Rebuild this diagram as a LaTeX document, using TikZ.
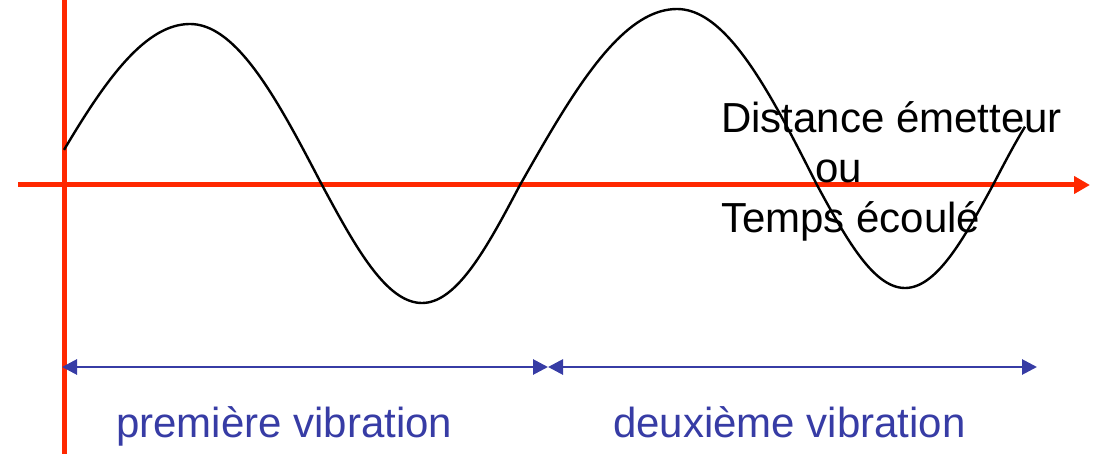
\documentclass[tikz,border=0pt]{standalone}
\usepackage{fontspec}
\setmainfont{Liberation Sans}
\usetikzlibrary{arrows.meta}
\definecolor{axisred}{RGB}{255,40,0}
\definecolor{vibblue}{RGB}{55,60,165}
\tikzset{
  axisline/.style={draw=axisred, line width=5pt},
  vibarrow/.style={draw=vibblue, line width=2.8pt, {Triangle[length=15pt,width=15pt]}-{Triangle[length=15pt,width=15pt]}},
  wave/.style={draw=black, line width=2.4pt, line join=round},
  blacktext/.style={font=\fontsize{42}{46}\selectfont, text=black, inner sep=0pt},
  bluetext/.style={font=\fontsize{42}{46}\selectfont, text=vibblue, inner sep=0pt},
}
\begin{document}
\begin{tikzpicture}[x=1pt,y=-1pt]
\useasboundingbox (0,0) rectangle (1097,454);
% axes
\coordinate (vtop) at (64,0);
\coordinate (vbot) at (64,454);
\coordinate (hleft) at (18,185);
\coordinate (hright) at (1090,185);
\draw[axisline] (vtop) -- (vbot);
\draw[axisline, -{Triangle[length=16pt,width=17pt]}] (hleft) -- (hright);
% wave
\draw[wave]
  plot[domain=64:190, samples=40] (\x, {185-161*sin(90*(\x-43.5)/146.5)})
  -- plot[domain=190:322, samples=40] (\x, {185-161*cos(90*(\x-190)/132)})
  -- plot[domain=322:422, samples=40] (\x, {185+118*sin(90*(\x-322)/100)})
  -- plot[domain=422:520, samples=40] (\x, {185+118*cos(90*(\x-422)/98)})
  -- plot[domain=520:677, samples=40] (\x, {185-176*sin(90*(\x-520)/157)})
  -- plot[domain=677:817, samples=40] (\x, {185-176*cos(90*(\x-677)/140)})
  -- plot[domain=817:905, samples=40] (\x, {185+103*sin(90*(\x-817)/88)})
  -- plot[domain=905:993, samples=40] (\x, {185+103*cos(90*(\x-905)/88)})
  -- plot[domain=993:1025, samples=15] (\x, {185-110*sin(90*(\x-993)/90)});
% text
\node[blacktext, anchor=base west] (t1) at (721,133) {Distance émetteur};
\node[blacktext, anchor=base west] (t2) at (815,183) {ou};
\node[blacktext, anchor=base west] (t3) at (721,233) {Temps écoulé};
% vibration arrows
\coordinate (a0) at (62,367);
\coordinate (a1) at (548,367);
\coordinate (a2) at (1037,367);
\draw[vibarrow] (a0) -- (a1);
\draw[vibarrow] (a1) -- (a2);
\node[bluetext, anchor=base west] (v1) at (116,437) {première vibration};
\node[bluetext, anchor=base west] (v2) at (613,437) {deuxième vibration};
\end{tikzpicture}
\end{document}
